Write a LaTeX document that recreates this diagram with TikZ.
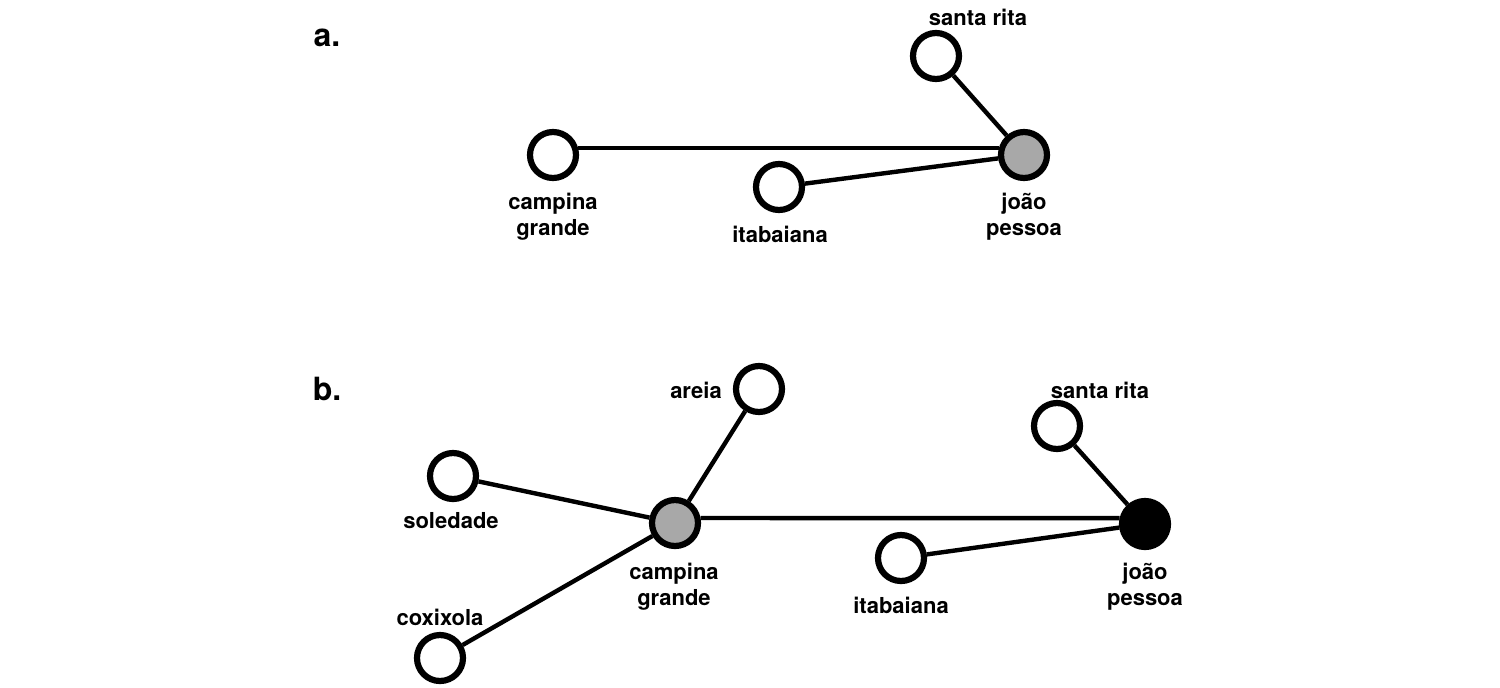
\documentclass[tikz,border=0pt]{standalone}
\usepackage{fontspec}
\setmainfont{TeX Gyre Heros}
\usepackage{tikz}
\usetikzlibrary{positioning}
\definecolor{hubgray}{RGB}{168,168,168}

\begin{document}
\begin{tikzpicture}[x=0.5pt,y=-0.5pt,
    city/.style={circle,draw,line width=3.1pt,minimum size=23pt,inner sep=0pt,fill=white},
    hub/.style={city,fill=hubgray},
    capital/.style={city,fill=black},
    road/.style={line width=2.2pt},
    lbl/.style={font=\fontsize{11}{13}\selectfont\bfseries,align=center,inner sep=0pt},
    panel/.style={font=\fontsize{16}{18}\selectfont\bfseries,inner sep=0pt,anchor=base}]
            \useasboundingbox (0,0) rectangle (1500,687);
            % Panel a
            \node[panel] (pa) at (327,46) {a.};
            \node[city] (acg) at (553,155) {};
            \node[city] (aita) at (779,187) {};
            \node[hub] (ajp) at (1024,155) {};
            \node[city] (asr) at (936,56) {};
            \draw[road] (acg.15) -- (ajp.165);
            \draw[road] (aita) -- (ajp);
            \draw[road] (asr) -- (ajp);
            % Labels a
            \node[lbl] (acg-l) at (553,217) {campina\\grande};
            \node[lbl,anchor=base] (aita-l) at (780,242) {itabaiana};
            \node[lbl] (ajp-l) at (1024,217) {joão\\pessoa};
            \node[lbl,anchor=base] (asr-l) at (978,25) {santa rita};
            % Panel b
            \node[panel] (pb) at (327,400) {b.};
            \node[city] (bar) at (759,389) {};
            \node[city] (bsr) at (1057,426) {};
            \node[city] (bsol) at (453,476) {};
            \node[hub] (bcg) at (675,523) {};
            \node[city] (bita) at (901,558) {};
            \node[capital] (bjp) at (1145,524) {};
            \node[city] (bcox) at (440,658) {};
            \draw[road] (bsol) -- (bcg);
            \draw[road] (bcox) -- (bcg);
            \draw[road] (bar) -- (bcg);
            \draw[road] (bcg.11) -- (bjp.167);
            \draw[road] (bita) -- (bjp);
            \draw[road] (bsr) -- (bjp);
            % Labels b
            \node[lbl,anchor=base] (bar-l) at (696,398) {areia};
            \node[lbl,anchor=base] (bsr-l) at (1100,398) {santa rita};
            \node[lbl,anchor=base] (bsol-l) at (451,528) {soledade};
            \node[lbl] (bcg-l) at (674,587) {campina\\grande};
            \node[lbl,anchor=base] (bita-l) at (901,613) {itabaiana};
            \node[lbl] (bjp-l) at (1145,587) {joão\\pessoa};
            \node[lbl,anchor=base] (bcox-l) at (440,625) {coxixola};
          \end{tikzpicture}
\end{document}
